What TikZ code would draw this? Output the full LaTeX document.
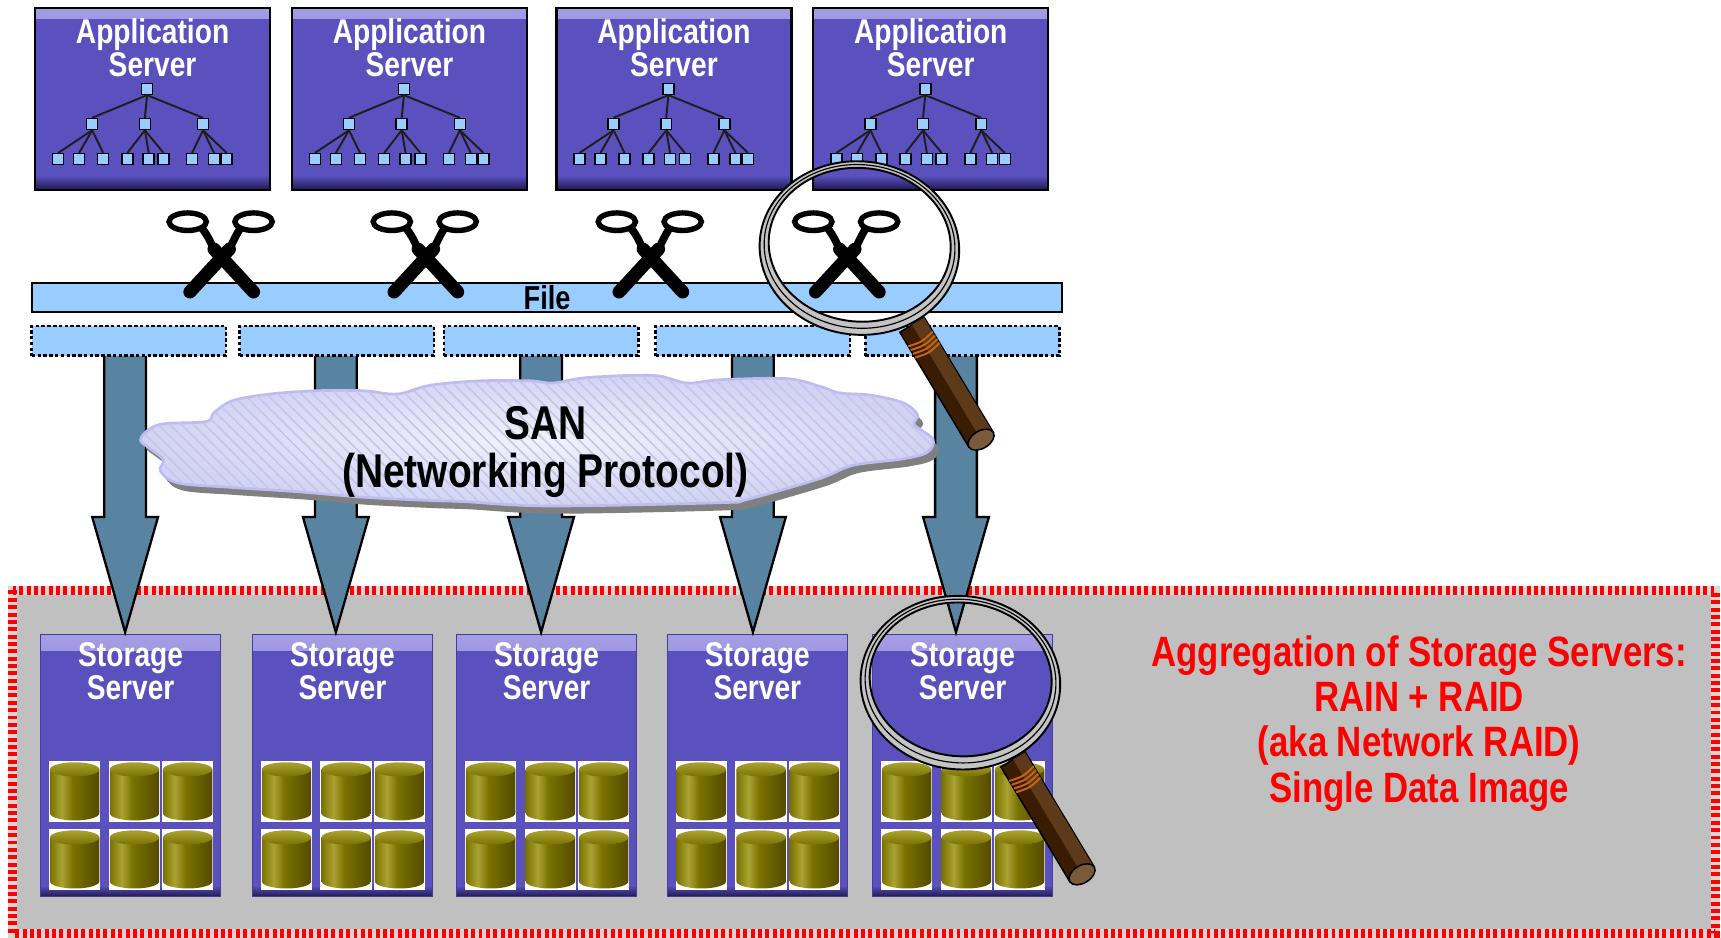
\documentclass[tikz,border=0pt]{standalone}
\usepackage{fontspec}
\newfontfamily\narrowsf{Liberation Sans}[FakeStretch=0.82]
\usepackage{tikz}
\usetikzlibrary{calc, patterns}

\definecolor{srvpurple}{RGB}{90,80,190}
\definecolor{srvlight}{RGB}{165,158,228}
\definecolor{srvdark}{RGB}{30,24,80}
\definecolor{srvedge}{RGB}{70,60,150}
\definecolor{nodeblue}{RGB}{153,204,255}
\definecolor{treegray}{RGB}{30,30,30}
\definecolor{linkblue}{RGB}{88,132,162}
\definecolor{cloudfill}{RGB}{210,210,246}
\definecolor{cloudlight}{RGB}{242,242,253}
\definecolor{cloudedge}{RGB}{188,188,242}
\definecolor{cloudhatch}{RGB}{198,198,226}
\definecolor{cloudshadow}{RGB}{128,128,128}
\definecolor{poolgray}{RGB}{192,192,192}
\definecolor{poolrim}{RGB}{215,215,215}
\definecolor{diskolive}{RGB}{122,114,0}
\definecolor{diskhigh}{RGB}{170,162,50}
\definecolor{diskdark}{RGB}{84,74,0}
\definecolor{rimgray}{RGB}{196,196,196}
\definecolor{handledark}{RGB}{58,28,2}
\definecolor{handlemid}{RGB}{92,58,26}
\definecolor{handlecap}{RGB}{122,90,58}
\definecolor{bandorange}{RGB}{200,100,20}

\pgfdeclarehorizontalshading{diskbody}{100bp}{color(0bp)=(diskolive); color(25bp)=(diskolive);
  color(37bp)=(diskhigh); color(48bp)=(diskolive); color(75bp)=(diskdark); color(100bp)=(diskdark)}

% outline of the SAN cloud
\newcommand{\sanblob}[1]{%
  \path[#1] plot[smooth cycle, tension=0.55] coordinates {
    (128,-401) (136,-391) (150,-386) (188,-384) (195,-376) (212,-365) (246,-359)
    (289,-356) (331,-356) (362,-359) (392,-351) (437,-347) (483,-347) (504,-349)
    (535,-344) (595,-342) (626,-349) (656,-346) (717,-345) (747,-352) (765,-358)
    (793,-360) (823,-367) (836,-378) (833,-387) (850,-400)
    (845,-412) (823,-418) (777,-424) (747,-436) (681,-455) (656,-458) (501,-461)
    (422,-457) (392,-456) (331,-453) (271,-448) (210,-444) (162,-440) (146,-429)
    (149,-419) (137,-409)};}

\tikzset{
  servertext/.style={text=white, font=\narrowsf\bfseries\fontsize{8.9}{8.5}\selectfont,
    align=center, inner sep=0pt, anchor=north},
  appbox/.style={draw=black, line width=0.6pt, fill=srvpurple, minimum width=21.4mm,
    minimum height=16.6mm, inner sep=0pt, path picture={
      \shade[top color=srvlight, bottom color=srvpurple] (path picture bounding box.north west)
        rectangle ([yshift=-1mm]path picture bounding box.north east);
      \shade[top color=srvpurple, bottom color=srvdark] ([yshift=1.3mm]path picture bounding box.south west)
        rectangle (path picture bounding box.south east);}},
  storebox/.style={draw=srvedge, line width=0.3pt, fill=srvpurple, minimum width=16.4mm,
    minimum height=23.9mm, inner sep=0pt, path picture={
      \shade[top color=srvlight, bottom color=srvpurple] (path picture bounding box.north west)
        rectangle ([yshift=-1.5mm]path picture bounding box.north east);
      \shade[top color=srvpurple, bottom color=srvdark] ([yshift=1mm]path picture bounding box.south west)
        rectangle (path picture bounding box.south east);}},
  treenode/.style={draw=black, line width=0.4pt, fill=nodeblue, minimum size=1mm, inner sep=0pt},
  treelink/.style={draw=treegray, line width=0.5pt},
  filebar/.style={draw=black, line width=0.5pt, fill=nodeblue, minimum width=93.9mm,
    minimum height=2.6mm, inner sep=0pt, font=\narrowsf\bfseries\fontsize{8.6}{9}\selectfont},
  slice/.style={draw=black, line width=0.7pt, dash pattern=on 0.9pt off 0.6pt, fill=nodeblue,
    minimum width=17.7mm, minimum height=2.7mm, inner sep=0pt},
  flowarrow/.style={draw=black, line width=0.6pt, fill=linkblue},
  sancloud/.style={draw=cloudedge, line width=0.7pt, inner color=cloudlight,
    outer color=cloudfill, postaction={pattern=north west lines, pattern color=cloudhatch}},
  santext/.style={font=\narrowsf\bfseries\fontsize{12.3}{12.5}\selectfont, align=center, inner sep=0pt},
  pooltext/.style={text=red, font=\narrowsf\bfseries\fontsize{11}{11.75}\selectfont,
    align=center, inner sep=0pt},
  % one disk in its white slot
  disk/.pic={
    \fill[white] (-23.5,-27.5) rectangle (23.5,27.5);
    \shade[shading=diskbody] (-22.5,20) -- (-22.5,-20)
      arc[start angle=180, end angle=360, x radius=22.5, y radius=6.5] -- (22.5,20) -- cycle;
    \shade[top color=diskhigh, bottom color=diskolive] (0,20) ellipse [x radius=22.5, y radius=6.5];
  },
  % cut mark
  scissors/.pic={
    \draw[line width=1.4pt] (-31,33) ellipse [x radius=17, y radius=8];
    \draw[line width=1.4pt] (29,33) ellipse [x radius=17, y radius=8];
    \draw[line width=2pt] (-7,8) .. controls (-10,14) and (-13,21) .. (-18,27);
    \draw[line width=2pt] (7,8) .. controls (10,14) and (13,21) .. (17,27);
    \draw[line width=3.4pt, line cap=round] (-7,8) -- (29,-31);
    \draw[line width=3.4pt, line cap=round] (7,8) -- (-29,-31);
  },
  % magnifying glass
  magnifier/.pic={
    \begin{scope}[rotate=-5]
      \path[fill=rimgray, draw=black, line width=0.5pt, even odd rule]
        (0,0) ellipse [x radius=91, y radius=79] (0,3) ellipse [x radius=83, y radius=70];
      \draw[line width=0.3pt] (0,1.5) ellipse [x radius=87, y radius=74.5];
    \end{scope}
    \begin{scope}[shift={(48,-70)}, rotate=-59]
      \filldraw[fill=handledark, draw=black, line width=0.4pt] (0,-13) rectangle (122,13);
      \fill[handlemid] (0,0) rectangle (122,12.6);
      \foreach \t in {15,19,23,27}
        \draw[bandorange, line width=0.5pt] (\t,-13) .. controls (\t+3,0) .. (\t,13);
      \filldraw[fill=handlecap, draw=black, line width=0.4pt] (122,0) ellipse [x radius=8, y radius=13];
    \end{scope}
  }
}

\begin{document}
\begin{tikzpicture}[x=0.1mm, y=0.1mm]
  \useasboundingbox (0,0) rectangle (1568,-854);
  % storage pool
  \draw[line width=0.8mm, draw=poolrim, fill=poolgray] (11.5,-538) rectangle (1563,-850.5);
  \draw[line width=0.8mm, red, dash pattern=on 0.36mm off 0.31mm] (11.5,-538) rectangle (1563,-850.5);
  \node[pooltext] (pooltitle) at (1293,-659)
    {Aggregation of Storage Servers:\\RAIN + RAID\\(aka Network RAID)\\Single Data Image};
  % storage servers and their disks
  \foreach \i/\x in {1/37,2/230,3/416,4/608,5/795} {
    \node[storebox] (stor\i) at (\x+82,-697.5) {};
    \node[servertext] (storlabel\i) at (\x+82,-585) {Storage\\Server};
    \foreach \cx in {31,85.5,134}
      \foreach \cy in {-721,-783}
        \pic at (\x+\cx,\cy) {disk};
  }
  % links from the slices down to the servers
  \foreach \i/\x in {1/114,2/306,3/493,4/686,5/871} {
    \coordinate (tail\i) at (\x,-324);
    \coordinate (tip\i) at (\x,-576);
    \draw[flowarrow] ($(tail\i)+(-19,0)$) -- ($(tip\i)+(-19,105)$) -- ($(tip\i)+(-30,105)$)
      -- (tip\i) -- ($(tip\i)+(30,105)$) -- ($(tip\i)+(19,105)$) -- ($(tail\i)+(19,0)$);
  }
  % SAN cloud with its shadow
  \sanblob{fill=cloudshadow, shift={(5,-7)}}
  \sanblob{sancloud}
  \node[santext] (santitle) at (497,-412) {SAN\\(Networking Protocol)};
  % file and its slices
  \foreach \i/\x in {1/117.5,2/307,3/493,4/686,5/877}
    \node[slice] (part\i) at (\x,-310.5) {};
  \node[filebar] (file) at (498.5,-271) {File};
  % application servers
  \foreach \i/\x in {1/32,2/266,3/507,4/741} {
    \node[appbox] (app\i) at (\x+107,-90) {};
    \node[servertext] (applabel\i) at (\x+107,-16.5) {Application\\Server};
    \node[treenode] (r\i) at (\x+102,-81) {};
    \foreach \j/\mx/\la/\lb/\lc in {1/52/21/40/62,2/100/84/103.5/117,3/153/143/163/174.5} {
      \node[treenode] (m\i\j) at (\x+\mx,-113) {};
      \draw[treelink] (r\i.south) -- (m\i\j.north);
      \foreach \k/\lx in {1/\la,2/\lb,3/\lc} {
        \node[treenode] (l\i\j\k) at (\x+\lx,-145) {};
        \draw[treelink] (m\i\j.south) -- (l\i\j\k.north);
      }
    }
  }
  % cuts between servers and file
  \foreach \i/\x in {1/202,2/388,3/593,4/772}
    \pic (cut\i) at (\x,-235) {scissors};
  % magnifiers
  \pic (lensA) at (783,-226) {magnifier};
  \pic (lensB) at (875,-622) {magnifier};
\end{tikzpicture}
\end{document}
